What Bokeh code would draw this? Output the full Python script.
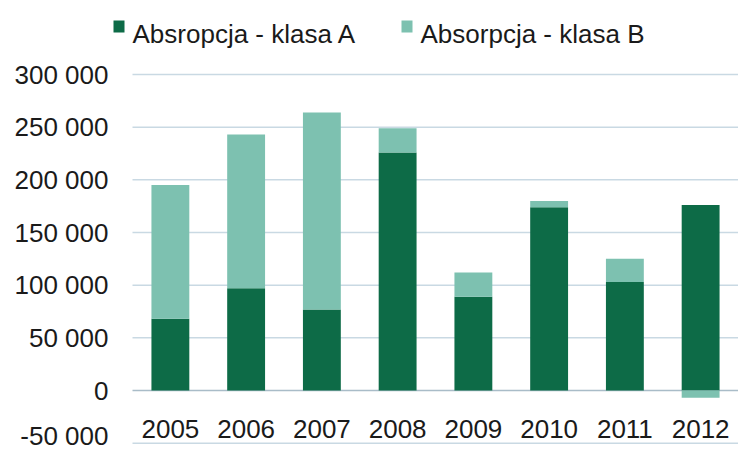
from bokeh.plotting import figure
from bokeh.models import Range1d, FixedTicker, ColumnDataSource
from bokeh.core.properties import value
from bokeh.embed import file_html
from bokeh.resources import INLINE

years = ["2005", "2006", "2007", "2008", "2009", "2010", "2011", "2012"]
klasa_a = [68000, 97000, 77000, 226000, 89000, 174000, 103000, 176000]
klasa_b = [127000, 146000, 187000, 23000, 23000, 6000, 22000, -7000]
y_ticks = [-50000, 0, 50000, 100000, 150000, 200000, 250000, 300000]
legend_labels = ["Absropcja - klasa A", "Absorpcja - klasa B"]

COL_A = "#0d6b47"
COL_B = "#7dc1b0"
GRID = "#c9d9e3"
ZERO = "#a9bcc8"
FONT = "Liberation Sans"
TXT = "#1a1a1a"

# ---- layout (screen pixels) ----
W, H = 738, 450
FRAME_LEFT = 100          # frame starts here so the legend swatch fits inside
CAT_LEFT = 132            # where the first category starts
ZERO_PX = 390             # screen y of value 0
PX_PER_CAT = (W - CAT_LEFT) / len(years)
PX_PER_VAL = 316 / 300000


def dx(px):
    return (px - CAT_LEFT) / PX_PER_CAT


def dy(py):
    return (ZERO_PX - py) / PX_PER_VAL


# ---- data prep ----
xc = [i + 0.5 for i in range(len(years))]
b_bottom = [a if b >= 0 else 0 for a, b in zip(klasa_a, klasa_b)]
b_top = [a + b if b >= 0 else b for a, b in zip(klasa_a, klasa_b)]
src = ColumnDataSource(dict(x=xc, year=years, a=klasa_a, b_bottom=b_bottom,
                            b_top=b_top, zero=[0] * len(years)))

p = figure(x_range=Range1d(dx(FRAME_LEFT), dx(W)), y_range=Range1d(dy(H), dy(0)),
           width=W, height=H, output_backend="svg", toolbar_location=None,
           min_border_left=FRAME_LEFT, min_border_right=0, min_border_top=0,
           min_border_bottom=0)
p.outline_line_color = None
p.background_fill_color = "white"
p.border_fill_color = "white"
p.xaxis.visible = False
p.grid.visible = False

# gridlines spanning the category area only
grid_ticks = [t for t in y_ticks if t != 0]
p.segment(x0=[0] * len(grid_ticks), x1=[len(years)] * len(grid_ticks),
          y0=grid_ticks, y1=grid_ticks, line_color=GRID, line_width=1.5)
p.segment(x0=[0], x1=[len(years)], y0=[0], y1=[0], line_color=ZERO, line_width=1.5)

# stacked bars
p.vbar(x="x", bottom="zero", top="a", width=0.5, source=src,
       fill_color=COL_A, line_color=None)
p.vbar(x="x", bottom="b_bottom", top="b_top", width=0.5, source=src,
       fill_color=COL_B, line_color=None)

# category labels
p.text(x="x", y=-36500, text="year", source=src, text_align="center",
       text_baseline="middle", text_font=value(FONT), text_font_size="26px",
       text_color=TXT)

# y axis (labels pulled in to the right, next to the category area)
p.yaxis.ticker = FixedTicker(ticks=y_ticks)
p.yaxis.major_label_overrides = {t: f"{t:,}".replace(",", " ") for t in y_ticks}
p.yaxis.axis_line_color = None
p.yaxis.major_tick_line_color = None
p.yaxis.minor_tick_line_color = None
p.yaxis.major_tick_out = 0
p.yaxis.major_tick_in = 0
p.yaxis.minor_tick_out = 0
p.yaxis.major_label_standoff = FRAME_LEFT - 108
p.yaxis.major_label_text_font = FONT
p.yaxis.major_label_text_font_size = "26px"
p.yaxis.major_label_text_color = TXT

# legend (swatches + labels)
sw_left = [113, 401]
p.quad(left=[dx(v) for v in sw_left], right=[dx(v + 11) for v in sw_left],
       top=[dy(20)] * 2, bottom=[dy(32)] * 2,
       fill_color=[COL_A, COL_B], line_color=None)
p.text(x=[dx(v + 19) for v in sw_left], y=[dy(33)] * 2, text=legend_labels,
       text_align="left", text_baseline="alphabetic", text_font=value(FONT),
       text_font_size="26px", text_color=TXT)

open("out.html", "w").write(file_html(p, INLINE))
